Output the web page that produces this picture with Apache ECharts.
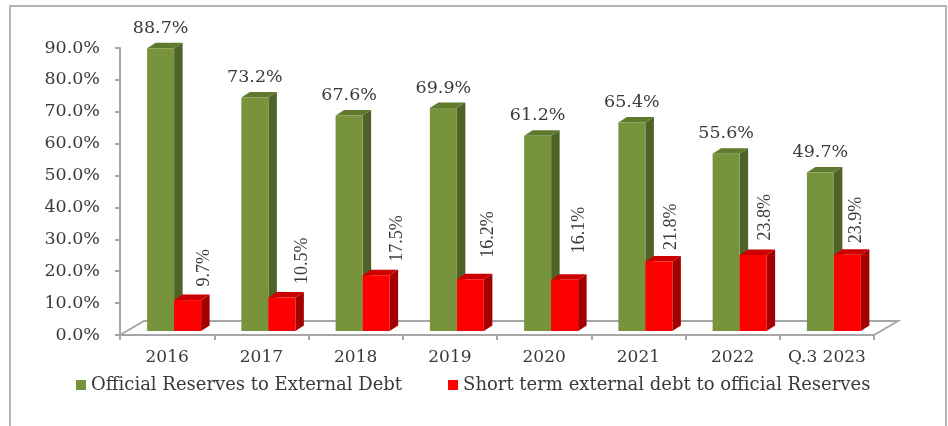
<!DOCTYPE html>
<html>
<head>
<meta charset="utf-8">
<style>
html, body { margin: 0; padding: 0; background: #fff; }
#chart { width: 948px; height: 426px; }
</style>
<script src="https://cdn.jsdelivr.net/npm/echarts@6/dist/echarts.min.js"></script>
</head>
<body>
<div id="chart"></div>
<script>
var categories = ['2016', '2017', '2018', '2019', '2020', '2021', '2022', 'Q.3 2023'];
var reservesToDebt = [88.7, 73.2, 67.6, 69.9, 61.2, 65.4, 55.6, 49.7];
var shortTermToReserves = [9.7, 10.5, 17.5, 16.2, 16.1, 21.8, 23.8, 23.9];
// the rotated labels were placed by hand in the original
var rotatedNudgeX = [3.5, 7, 8, 4.5, 1, -1, -1, -5];
var rotatedGapY = [8, 8, 8, 16, 21, 6, 9, 6];

var serif = '"DejaVu Serif", "Liberation Serif", serif';
var textColor = '#3a3a3a';
var axisColor = '#a6a6a6';

var barW = 27, depthX = 8.5, depthY = 5.5, baseLift = 4, midShift = 7;

// one box = front + side + top, positioned from the axis scales
function box(api, side, colors, rotated) {
    var idx = api.value(0);
    var v = api.value(1);
    var base = api.coord([idx, 0]);
    var top = api.coord([idx, v]);
    var x0 = base[0] + midShift + (side < 0 ? -barW : 0);
    var x1 = x0 + barW;
    var yb = base[1] - baseLift;
    var yt = top[1] - baseLift;
    var label = v.toFixed(1) + '%';
    var children = [
        { type: 'polygon', shape: { points: [[x1, yb], [x1 + depthX, yb - depthY], [x1 + depthX, yt - depthY], [x1, yt]] }, style: { fill: colors[1] } },
        { type: 'polygon', shape: { points: [[x0, yt], [x0 + depthX, yt - depthY], [x1 + depthX, yt - depthY], [x1, yt]] }, style: { fill: colors[2] } },
        { type: 'rect', shape: { x: x0, y: yt, width: barW, height: yb - yt }, style: { fill: colors[0] } }
    ];
    if (rotated) {
        children.push({
            type: 'text', x: x1 + rotatedNudgeX[idx], y: yt - depthY - rotatedGapY[idx], rotation: Math.PI / 2,
            style: { text: label, font: '18px "Liberation Serif", serif', fill: textColor, align: 'left', verticalAlign: 'middle' }
        });
    } else {
        children.push({
            type: 'text', x: (x0 + x1) / 2, y: yt - 20,
            style: { text: label, font: '17.5px ' + serif, fill: textColor, align: 'center', verticalAlign: 'middle' }
        });
    }
    return { type: 'group', children: children };
}

var chart = echarts.init(document.getElementById('chart'));

chart.setOption({
    animation: false,
    backgroundColor: '#fff',
    graphic: [{
        type: 'polyline',
        silent: true,
        shape: { points: [[10, 426], [10, 6], [946, 6], [946, 426]] },
        style: { stroke: '#b5b5b5', lineWidth: 2, fill: 'none' }
    }],
    grid: { left: 120, right: 74, top: 48, bottom: 91 },
    legend: {
        left: 71,
        top: 371,
        icon: 'rect',
        itemWidth: 10,
        itemHeight: 10,
        itemGap: 46,
        data: ['Official Reserves to External Debt', 'Short term external debt to official Reserves'],
        textStyle: { fontFamily: serif, fontSize: 18, color: textColor }
    },
    xAxis: {
        type: 'category',
        data: categories,
        axisLine: { lineStyle: { color: axisColor, width: 2 } },
        axisTick: { show: true, length: 5, lineStyle: { color: axisColor, width: 2 } },
        axisLabel: { fontFamily: serif, fontSize: 17, color: textColor, margin: 14, interval: 0 }
    },
    yAxis: {
        type: 'value',
        min: 0,
        max: 90,
        interval: 10,
        axisLine: { show: true, lineStyle: { color: axisColor, width: 2 } },
        axisTick: { show: true, length: 5, lineStyle: { color: axisColor, width: 2 } },
        splitLine: { show: false },
        axisLabel: {
            fontFamily: serif, fontSize: 17.5, color: textColor, margin: 20,
            formatter: function (v) { return v.toFixed(1) + '%'; }
        }
    },
    series: [
        {
            name: 'floor',
            type: 'custom',
            silent: true,
            z: 1,
            data: [[0, 0]],
            renderItem: function (params, api) {
                var c = params.coordSys;
                var yb = c.y + c.height, xr = c.x + c.width;
                return {
                    type: 'polyline',
                    shape: { points: [[c.x, yb], [c.x + 24, yb - 14], [xr + 24, yb - 14], [xr, yb]] },
                    style: { stroke: axisColor, lineWidth: 2, fill: 'none' }
                };
            }
        },
        {
            name: 'Official Reserves to External Debt',
            type: 'custom',
            z: 2,
            itemStyle: { color: '#77933c' },
            encode: { x: 0, y: 1 },
            data: reservesToDebt.map(function (v, i) { return [i, v]; }),
            renderItem: function (params, api) {
                return box(api, -1, ['#77933c', '#4f6228', '#5f7a2c'], false);
            }
        },
        {
            name: 'Short term external debt to official Reserves',
            type: 'custom',
            z: 3,
            itemStyle: { color: '#ff0000' },
            encode: { x: 0, y: 1 },
            data: shortTermToReserves.map(function (v, i) { return [i, v]; }),
            renderItem: function (params, api) {
                return box(api, 1, ['#ff0000', '#a50000', '#cc0000'], true);
            }
        }
    ]
});
</script>
</body>
</html>
